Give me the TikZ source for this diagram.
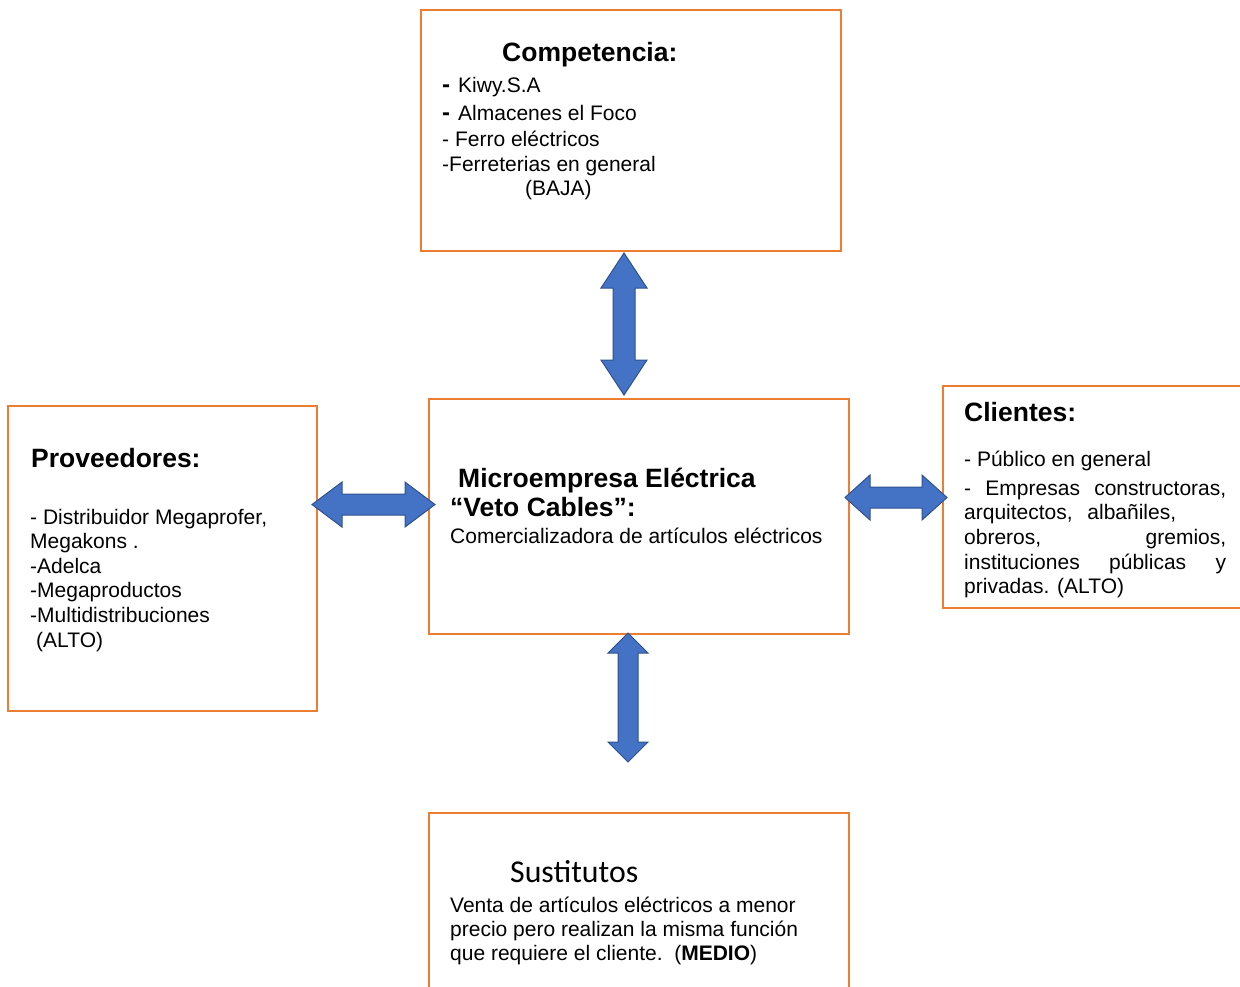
\documentclass[tikz,border=0pt]{standalone}
\usepackage{fontspec}
\setmainfont{Liberation Sans}
\newfontfamily\calibrifont{Carlito}
\definecolor{orng}{HTML}{ED7D31}
\definecolor{blu}{HTML}{4472C4}
\definecolor{bluedge}{HTML}{2F528F}
\begin{document}
\begin{tikzpicture}[x=1pt,y=-1pt,
 box/.style={draw=orng, line width=2.5pt, rectangle, inner sep=0pt},
 txt/.style={anchor=base west, inner sep=0pt, font=\fontsize{21}{25}\selectfont},
 bigdash/.style={anchor=base west, inner sep=0pt, font=\bfseries\fontsize{24}{25}\selectfont},
 head/.style={anchor=base west, inner sep=0pt, font=\bfseries\fontsize{26.5}{30}\selectfont},
 subst/.style={anchor=base west, inner sep=0pt, font=\calibrifont\fontsize{31.8}{36}\selectfont},
 blockarrow/.style={fill=blu, draw=bluedge, line width=1pt, line join=miter}]
\useasboundingbox (0,0) rectangle (1240,986);
\clip (0,0) rectangle (1240,986);
\fill[white] (0,0) rectangle (1240,986);

% boxes
\node[box, minimum width=420pt, minimum height=241pt] (comp) at (631,130.5) {};
\node[box, minimum width=309pt, minimum height=305pt] (prov) at (162.5,558.5) {};
\node[box, minimum width=320pt, minimum height=222pt] (cli) at (1103,497) {};
\node[box, minimum width=420pt, minimum height=235pt] (micro) at (639,516.5) {};
\node[box, minimum width=420pt, minimum height=200pt] (sust) at (639,913) {};

% block arrows
\draw[blockarrow] (624,253) -- (647,288) -- (635,288) -- (635,360) -- (647,360) -- (624,395)
  -- (601,360) -- (613,360) -- (613,288) -- (601,288) -- cycle;
\draw[blockarrow] (628,633) -- (648,653) -- (638,653) -- (638,742) -- (648,742) -- (628,762)
  -- (608,742) -- (618,742) -- (618,653) -- (608,653) -- cycle;
\draw[blockarrow] (312,504.5) -- (342,482) -- (342,494) -- (405,494) -- (405,482) -- (435,504.5)
  -- (405,527) -- (405,515) -- (342,515) -- (342,527) -- cycle;
\draw[blockarrow] (845,497.5) -- (870,475) -- (870,487) -- (922,487) -- (922,475) -- (947,497.5)
  -- (922,520) -- (922,508) -- (870,508) -- (870,520) -- cycle;

% Competencia
\node[head] (compT) at (502,61) {Competencia:};
\node[bigdash] (c1d) at (442,92) {-};
\node[txt] (c1) at (458,92) {Kiwy.S.A};
\node[bigdash] (c2d) at (442,120) {-};
\node[txt] (c2) at (458,120) {Almacenes el Foco};
\node[txt] (c3) at (442,146) {- Ferro eléctricos};
\node[txt] (c4) at (442,171) {-Ferreterias en general};
\node[txt] (c5) at (525,195) {(BAJA)};

% Proveedores
\node[head] (provT) at (31,467) {Proveedores:};
\node[txt] (p1) at (30,524) {- Distribuidor Megaprofer,};
\node[txt] (p2) at (30,548) {Megakons .};
\node[txt] (p3) at (30,573) {-Adelca};
\node[txt] (p4) at (30,597) {-Megaproductos};
\node[txt] (p5) at (30,622) {-Multidistribuciones};
\node[txt] (p6) at (36,647) {(ALTO)};

% Microempresa
\node[head] (m1) at (458,487) {Microempresa Eléctrica};
\node[head] (m2) at (450,516) {“Veto Cables”:};
\node[txt] (m3) at (450,543) {Comercializadora de artículos eléctricos};

% Clientes
\node[head] (cliT) at (964,421) {Clientes:};
\node[txt] (k1) at (964,466) {- Público en general};
\node[txt] (k2) at (964,495) {\makebox[262pt][s]{- Empresas constructoras,}};
\node[txt] (k3) at (964,519) {\makebox[212pt][s]{arquitectos, albañiles,}};
\node[txt] (k4) at (964,544) {\makebox[262pt][s]{obreros, gremios,}};
\node[txt] (k5) at (964,569) {\makebox[262pt][s]{instituciones públicas y}};
\node[txt] (k6) at (964,593) {privadas. (ALTO)};

% Sustitutos
\node[subst] (sT) at (510,882) {Sustitutos};
\node[txt] (s1) at (450,912) {Venta de artículos eléctricos a menor};
\node[txt] (s2) at (450,936) {precio pero realizan la misma función};
\node[txt] (s3) at (450,960) {que requiere el cliente.\ \ (\textbf{MEDIO})};
\end{tikzpicture}
\end{document}
